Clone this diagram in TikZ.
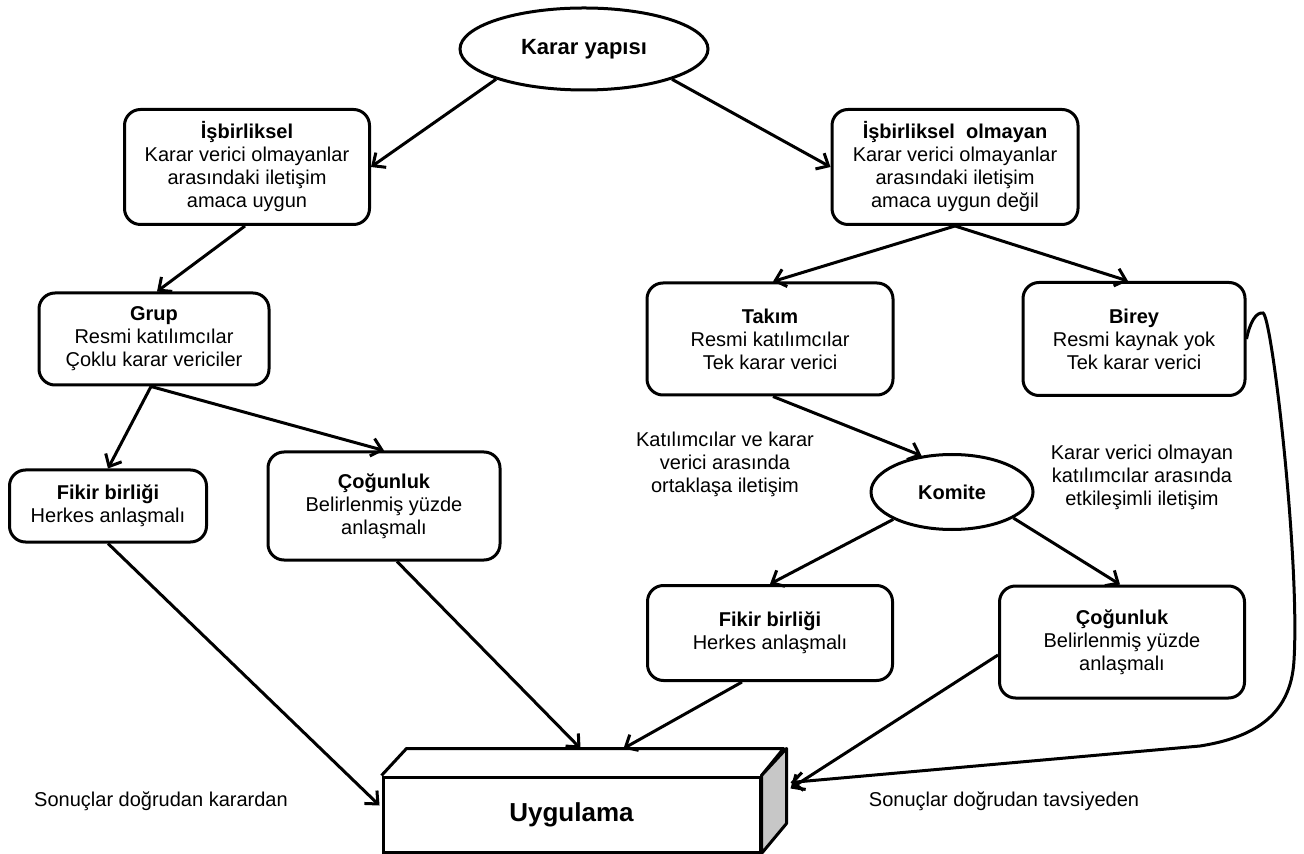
\documentclass[tikz,border=0pt]{standalone}
\usepackage{fontspec}
\setmainfont{Liberation Sans}
\usetikzlibrary{arrows.meta,positioning,shapes.geometric,calc}
\tikzset{%
   rbox/.style={rectangle, rounded corners=8pt, draw=black, line width=1.5pt, align=center, inner sep=0pt, font=\fontsize{10}{11.5}\selectfont},
   oval/.style={ellipse, draw=black, line width=1.5pt, inner sep=0pt, font=\fontsize{10}{11.5}\selectfont\bfseries},
   arr/.style={-{Straight Barb[length=5pt,width=9pt]}, line width=1.5pt},
   note/.style={align=center, inner sep=0pt, font=\fontsize{10}{11.5}\selectfont},
}

\begin{document}
\begin{tikzpicture}[x=0.5pt, y=-0.5pt]
         \useasboundingbox (0,0) rectangle (1304,854);
         \node[oval, minimum width=124pt, minimum height=41pt, font=\fontsize{11}{12}\selectfont\bfseries] (top) at (584,49) {Karar yapısı};
         \node[rbox, minimum width=122.5pt, minimum height=57.5pt] (isb) at (247,167) {\textbf{İşbirliksel}\\Karar verici olmayanlar\\arasındaki iletişim\\amaca uygun};
         \node[rbox, minimum width=123pt, minimum height=57.5pt] (isbo) at (955,167) {\textbf{İşbirliksel\ \ olmayan}\\Karar verici olmayanlar\\arasındaki iletişim\\amaca uygun değil};
         \node[rbox, minimum width=115pt, minimum height=46pt] (grup) at (154,339) {\textbf{Grup}\\Resmi katılımcılar\\Çoklu karar vericiler};
         \node[rbox, minimum width=123pt, minimum height=56pt] (takim) at (770,339) {\textbf{Takım}\\Resmi katılımcılar\\Tek karar verici};
         \node[rbox, minimum width=111pt, minimum height=56.5pt] (birey) at (1134,339) {\textbf{Birey}\\Resmi kaynak yok\\Tek karar verici};
         \node[rbox, minimum width=98.5pt, minimum height=36pt] (fikir1) at (108,506) {\textbf{Fikir birliği}\\Herkes anlaşmalı};
         \node[rbox, minimum width=116pt, minimum height=54pt] (cog1) at (384,506) {\textbf{Çoğunluk}\\Belirlenmiş yüzde\\anlaşmalı};
         \node[oval, minimum width=81pt, minimum height=37.5pt] (komite) at (952,492) {Komite};
         \node[rbox, minimum width=122.5pt, minimum height=47.5pt] (fikir2) at (770,633) {\textbf{Fikir birliği}\\Herkes anlaşmalı};
         \node[rbox, minimum width=122.5pt, minimum height=56pt] (cog2) at (1122,642) {\textbf{Çoğunluk}\\Belirlenmiş yüzde\\anlaşmalı};
         \node[note] (n1) at (725,464) {Katılımcılar ve karar\\verici arasında\\ortaklaşa iletişim};
         \node[note] (n2) at (1142,477) {Karar verici olmayan\\katılımcılar arasında\\etkileşimli iletişim};
         \node[note] (n3) at (161,801) {Sonuçlar doğrudan karardan};
         \node[note] (n4) at (1004,801) {Sonuçlar doğrudan tavsiyeden};
         \node[draw=black, line width=1.5pt, minimum width=188.5pt, minimum height=37.5pt, font=\fontsize{13}{14}\selectfont\bfseries] (uyg) at (571.5,814.5) {Uygulama};
         \draw[line width=1.5pt, line join=round] (uyg.north west) -- ++(25,-27) -- ++(377,0) -- (uyg.north east);
         \draw[line width=1.5pt, line join=round, fill=black!22] (uyg.north east) -- ++(25,-27) -- ++(0,75) -- (uyg.south east) -- cycle;
         \draw[arr] (top.199) -- (isb.east);
         \draw[arr] (top.341) -- (isbo.west);
         \draw[arr] ($(isb.south)+(-2,0)$) -- ($(grup.north)+(3,0)$);
         \draw[arr] (isbo.south) -- ($(takim.north)+(3,0)$);
         \draw[arr] (isbo.south) -- ($(birey.north)+(-6,0)$);
         \draw[arr] ($(grup.south)+(-3,0)$) -- (fikir1.north);
         \draw[arr] ($(grup.south)+(-3,0)$) -- (cog1.north);
         \draw[arr] ($(takim.south)+(3,0)$) -- (komite.130);
         \draw[arr] (komite.205) -- (fikir2.north);
         \draw[arr] (komite.337) -- ($(cog2.north)+(-2,0)$);
         \draw[arr] (fikir1.south) -- ($(uyg.west)+(-2,-9)$);
         \draw[arr] ($(cog1.south)+(13,0)$) -- ($(uyg.north)+(9,-27)$);
         \draw[arr] ($(fikir2.south)+(-28,0)$) -- ($(uyg.north)+(52,-27)$);
         \draw[arr] ($(cog2.west)+(0,13)$) -- ($(uyg.east)+(29,-26)$);
         \draw[arr] (birey.east) .. controls (1250,322) and (1256,312) .. (1263,313)
            .. controls (1272,316) and (1300,560) .. (1294,660)
            .. controls (1291,718) and (1250,738) .. (1200,746) -- ($(uyg.east)+(29,-32)$);
      \end{tikzpicture}
\end{document}
